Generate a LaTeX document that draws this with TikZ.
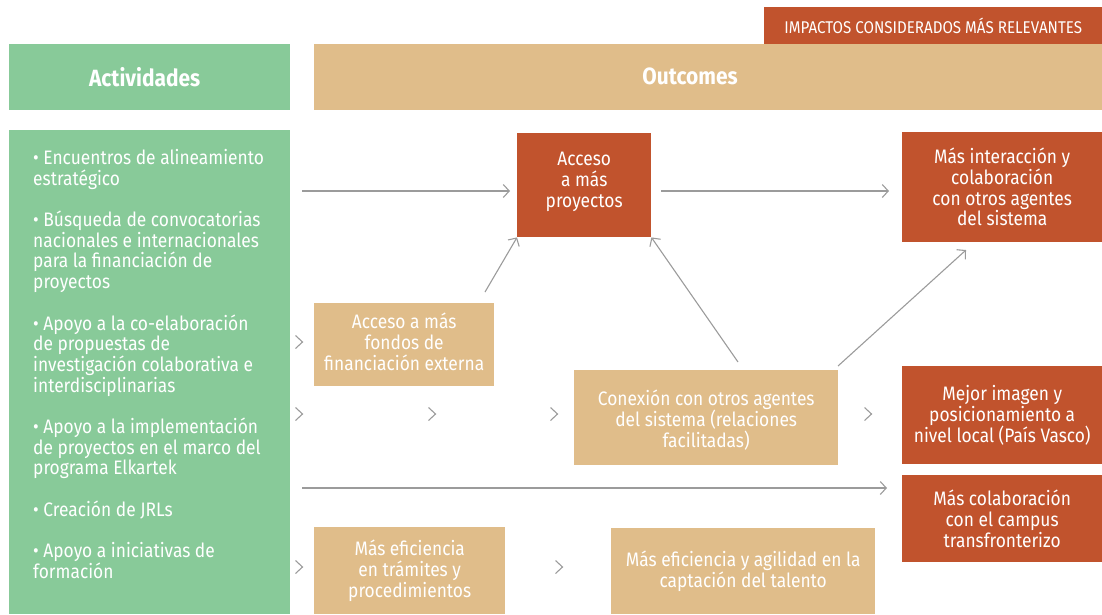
\documentclass[tikz,border=0pt]{standalone}
\usepackage{fontspec}
\setmainfont{Fira Sans}[FakeStretch=0.89]
\usetikzlibrary{arrows.meta}
\definecolor{grn}{HTML}{88CA99}
\definecolor{tan}{HTML}{E0BD8A}
\definecolor{rd}{HTML}{C1532D}
\definecolor{gry}{HTML}{9B9B9B}
\begin{document}
\begin{tikzpicture}[x=1pt,y=-1pt,
  box/.style={rectangle, inner sep=0pt, anchor=north west, text=white, align=center,
    font=\fontsize{19.5}{20.7}\selectfont},
  rbox/.style={box, fill=rd},
  tbox/.style={box, fill=tan},
  gbox/.style={box, fill=grn},
  arr/.style={draw=gry, line width=1.1pt, -{Straight Barb[length=6pt,width=13pt]}},
  chev/.pic={\draw[gry, line width=1.1pt] (-3.5,-6.5) -- (3.5,0) -- (-3.5,6.5);}]
\useasboundingbox (0,0) rectangle (1102,614);

% headers
\node[rbox, minimum width=338, minimum height=37, font=\fontsize{17}{20}\selectfont] (imp) at (764,7) {IMPACTOS CONSIDERADOS MÁS RELEVANTES};
\node[gbox, minimum width=281, minimum height=66, font=\fontsize{23.5}{26}\selectfont\bfseries] (hact) at (9,44) {Actividades\hspace*{10pt}};
\node[tbox, minimum width=788, minimum height=66] (hout) at (314,44) {};
\node[text=white, font=\fontsize{23.5}{26}\selectfont\bfseries] (hout-t) at (690,76) {Outcomes};

% activities
\node[gbox, minimum width=281, minimum height=484] (act) at (9,130) {};
\node[anchor=north west, inner sep=0pt, align=left, text=white,
  font=\fontsize{19.5}{20.7}\selectfont] (acttxt) at (33,149)
  {• Encuentros de alineamiento\\estratégico\\[20.7pt]
   • Búsqueda de convocatorias\\nacionales e internacionales\\para la financiación de\\proyectos\\[20.7pt]
   • Apoyo a la co-elaboración\\de propuestas de\\investigación colaborativa e\\interdisciplinarias\\[20.7pt]
   • Apoyo a la implementación\\de proyectos en el marco del\\programa Elkartek\\[20.7pt]
   • Creación de JRLs\\[20.7pt]
   • Apoyo a iniciativas de\\formación};

% outcome boxes
\node[rbox, minimum width=134, minimum height=104] (acc) at (517,133) {Acceso\\a más\\proyectos\rule[-10.5pt]{0pt}{0pt}};
\node[rbox, minimum width=200, minimum height=110] (inter) at (902,132) {Más interacción y\\colaboración\\con otros agentes\\del sistema};
\node[tbox, minimum width=180, minimum height=83] (fondos) at (314,303) {Acceso a más\\fondos de\\financiación externa\rule[-6pt]{0pt}{0pt}};
\node[tbox, minimum width=264, minimum height=95] (conex) at (574,370) {\rule{0pt}{20.5pt}Conexión con otros agentes\\del sistema (relaciones\\facilitadas)};
\node[rbox, minimum width=200, minimum height=98] (imagen) at (902,366) {Mejor imagen y\\posicionamiento a\\nivel local (País Vasco)};
\node[rbox, minimum width=200, minimum height=87] (campus) at (902,475) {Más colaboración\\con el campus\\transfronterizo};
\node[tbox, minimum width=191, minimum height=87] (tram) at (314,527) {Más eficiencia\\en trámites y\\procedimientos};
\node[tbox, minimum width=264, minimum height=86] (talento) at (611,528) {Más eficiencia y agilidad en la\\captación del talento};

% arrows
\coordinate (a1s) at (302,191);
\coordinate (a1e) at (510,191);
\draw[arr] (a1s) -- (a1e);
\coordinate (a2s) at (661,191);
\coordinate (a2e) at (889,191);
\draw[arr] (a2s) -- (a2e);
\coordinate (d1s) at (485,292);
\draw[arr] (d1s) -- (acc.south west);
\coordinate (d2s) at (738,362);
\draw[arr] (d2s) -- (acc.south east);
\coordinate (d3s) at (838,366);
\coordinate (d3e) at (966,250);
\draw[arr] (d3s) -- (d3e);
\coordinate (lgs) at (302,488);
\coordinate (lge) at (887,488);
\draw[arr] (lgs) -- (lge);

% chevrons
\pic at (299,342) {chev};
\pic at (299,414) {chev};
\pic at (432,414) {chev};
\pic at (554,414) {chev};
\pic at (868,414) {chev};
\pic at (299,567) {chev};
\pic at (559,567) {chev};
\end{tikzpicture}
\end{document}
